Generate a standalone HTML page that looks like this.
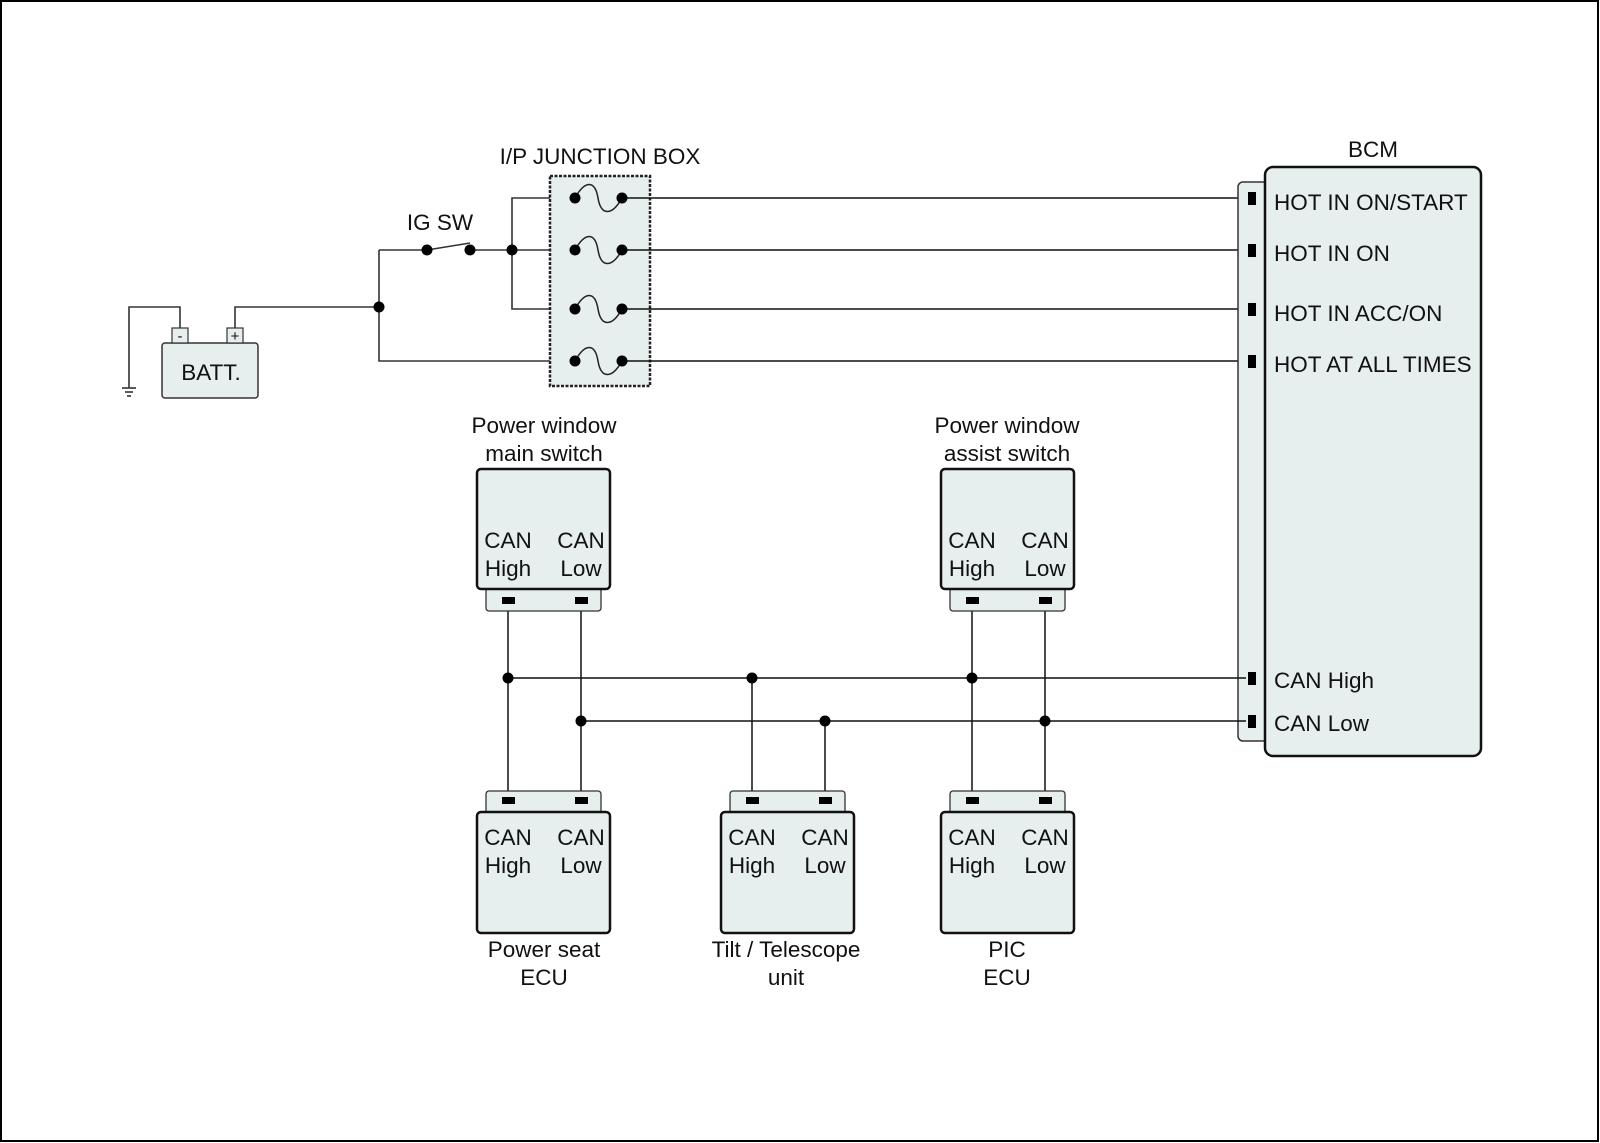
<!DOCTYPE html>
<html><head><meta charset="utf-8"><style>
html,body{margin:0;padding:0;background:#fff}
svg{display:block}
text{font-family:"Liberation Sans",Arial,sans-serif;font-size:22.5px;fill:#111}
</style></head><body>
<svg width="1600" height="1143" viewBox="0 0 1600 1143" xmlns="http://www.w3.org/2000/svg">
<rect x="1" y="1" width="1597" height="1140" fill="#fff" stroke="#000" stroke-width="2"/>
<g fill="none" stroke="#333" stroke-width="1.6">
<polyline points="180,328 180,307 129,307 129,388"/>
<polyline points="235,328 235,307 379,307"/>
<line x1="122" y1="388" x2="136" y2="388"/><line x1="125" y1="392" x2="133" y2="392"/><line x1="127" y1="396" x2="131" y2="396"/>
<polyline points="379,250 379,361 575,361"/>
<polyline points="379,250 427,250"/>
<line x1="427" y1="250" x2="470" y2="243"/>
<line x1="470" y1="250" x2="512" y2="250"/>
<polyline points="575,198 512,198 512,309 575,309"/>
<line x1="512" y1="250" x2="575" y2="250"/>
</g>
<rect x="162" y="343" width="96" height="55" rx="3" fill="#e6eeee" stroke="#333" stroke-width="1.5"/>
<rect x="172" y="328" width="16" height="15" fill="#e6eeee" stroke="#333" stroke-width="1.2"/>
<rect x="227" y="328" width="16" height="15" fill="#e6eeee" stroke="#333" stroke-width="1.2"/>
<text x="180" y="341" text-anchor="middle" style="font-size:15px">-</text>
<text x="235" y="341" text-anchor="middle" style="font-size:15px">+</text>
<text x="211" y="380" text-anchor="middle">BATT.</text>
<text x="440" y="230" text-anchor="middle">IG SW</text>
<rect x="550" y="176" width="100" height="210" fill="#e6eeee" stroke="#222" stroke-width="2.5" stroke-dasharray="3,1.5"/>
<text x="600" y="164" text-anchor="middle">I/P JUNCTION BOX</text>
<g fill="none" stroke="#222" stroke-width="1.5">
<path d="M575,198 C585,180 595,180 598,198 C601,216 612,216 622,198"/>
<path d="M575,250 C585,232 595,232 598,250 C601,268 612,268 622,250"/>
<path d="M575,309 C585,291 595,291 598,309 C601,327 612,327 622,309"/>
<path d="M575,361 C585,343 595,343 598,361 C601,379 612,379 622,361"/>
</g>
<g stroke="#111" stroke-width="1.5">
<line x1="622" y1="198" x2="1246" y2="198"/>
<line x1="622" y1="250" x2="1246" y2="250"/>
<line x1="622" y1="309" x2="1246" y2="309"/>
<line x1="622" y1="361" x2="1246" y2="361"/>
</g>
<g fill="#000">
<circle cx="379" cy="307" r="5.5"/><circle cx="427" cy="250" r="5.5"/><circle cx="470" cy="250" r="5.5"/><circle cx="512" cy="250" r="5.5"/>
<circle cx="575" cy="198" r="5.5"/><circle cx="622" cy="198" r="5.5"/>
<circle cx="575" cy="250" r="5.5"/><circle cx="622" cy="250" r="5.5"/>
<circle cx="575" cy="309" r="5.5"/><circle cx="622" cy="309" r="5.5"/>
<circle cx="575" cy="361" r="5.5"/><circle cx="622" cy="361" r="5.5"/>
</g>
<rect x="1238" y="182" width="40" height="559" rx="5" fill="#e6eeee" stroke="#333" stroke-width="1.5"/>
<rect x="1265" y="167" width="216" height="589" rx="8" fill="#e6eeee" stroke="#111" stroke-width="2.5"/>
<text x="1373" y="157" text-anchor="middle">BCM</text>
<g fill="#000">
<rect x="1248" y="192" width="8" height="13"/><rect x="1248" y="244" width="8" height="13"/><rect x="1248" y="303" width="8" height="13"/><rect x="1248" y="355" width="8" height="13"/>
<rect x="1248" y="672" width="8" height="13"/><rect x="1248" y="715" width="8" height="13"/>
</g>
<text x="1274" y="210">HOT IN ON/START</text>
<text x="1274" y="261">HOT IN ON</text>
<text x="1274" y="321">HOT IN ACC/ON</text>
<text x="1274" y="372">HOT AT ALL TIMES</text>
<text x="1274" y="688">CAN High</text>
<text x="1274" y="731">CAN Low</text>
<g stroke="#111" stroke-width="1.5">
<line x1="508" y1="678" x2="1246" y2="678"/>
<line x1="581" y1="721" x2="1246" y2="721"/>
<line x1="508" y1="603" x2="508" y2="800"/><line x1="581" y1="603" x2="581" y2="800"/>
<line x1="972" y1="603" x2="972" y2="800"/><line x1="1045" y1="603" x2="1045" y2="800"/>
<line x1="752" y1="678" x2="752" y2="800"/><line x1="825" y1="721" x2="825" y2="800"/>
</g>
<g fill="#000">
<circle cx="508" cy="678" r="5.5"/><circle cx="752" cy="678" r="5.5"/><circle cx="972" cy="678" r="5.5"/>
<circle cx="581" cy="721" r="5.5"/><circle cx="825" cy="721" r="5.5"/><circle cx="1045" cy="721" r="5.5"/>
</g>
<g>
<rect x="486" y="585" width="115" height="26" rx="3" fill="#e6eeee" stroke="#333" stroke-width="1.3"/>
<rect x="477" y="469" width="133" height="120" rx="4" fill="#e6eeee" stroke="#111" stroke-width="2.5"/>
<rect x="502" y="597" width="13" height="7" fill="#000"/><rect x="575" y="597" width="13" height="7" fill="#000"/>
<text x="508" y="548" text-anchor="middle">CAN</text><text x="581" y="548" text-anchor="middle">CAN</text>
<text x="508" y="576" text-anchor="middle">High</text><text x="581" y="576" text-anchor="middle">Low</text>
<text x="544" y="433" text-anchor="middle">Power window</text><text x="544" y="461" text-anchor="middle">main switch</text>
</g>
<g>
<rect x="950" y="585" width="115" height="26" rx="3" fill="#e6eeee" stroke="#333" stroke-width="1.3"/>
<rect x="941" y="469" width="133" height="120" rx="4" fill="#e6eeee" stroke="#111" stroke-width="2.5"/>
<rect x="966" y="597" width="13" height="7" fill="#000"/><rect x="1039" y="597" width="13" height="7" fill="#000"/>
<text x="972" y="548" text-anchor="middle">CAN</text><text x="1045" y="548" text-anchor="middle">CAN</text>
<text x="972" y="576" text-anchor="middle">High</text><text x="1045" y="576" text-anchor="middle">Low</text>
<text x="1007" y="433" text-anchor="middle">Power window</text><text x="1007" y="461" text-anchor="middle">assist switch</text>
</g>
<g>
<rect x="486" y="791" width="115" height="26" rx="3" fill="#e6eeee" stroke="#333" stroke-width="1.3"/>
<rect x="477" y="812" width="133" height="121" rx="4" fill="#e6eeee" stroke="#111" stroke-width="2.5"/>
<rect x="502" y="797" width="13" height="7" fill="#000"/><rect x="575" y="797" width="13" height="7" fill="#000"/>
<text x="508" y="845" text-anchor="middle">CAN</text><text x="581" y="845" text-anchor="middle">CAN</text>
<text x="508" y="873" text-anchor="middle">High</text><text x="581" y="873" text-anchor="middle">Low</text>
<text x="544" y="957" text-anchor="middle">Power seat</text><text x="544" y="985" text-anchor="middle">ECU</text>
</g>
<g>
<rect x="730" y="791" width="115" height="26" rx="3" fill="#e6eeee" stroke="#333" stroke-width="1.3"/>
<rect x="721" y="812" width="133" height="121" rx="4" fill="#e6eeee" stroke="#111" stroke-width="2.5"/>
<rect x="746" y="797" width="13" height="7" fill="#000"/><rect x="819" y="797" width="13" height="7" fill="#000"/>
<text x="752" y="845" text-anchor="middle">CAN</text><text x="825" y="845" text-anchor="middle">CAN</text>
<text x="752" y="873" text-anchor="middle">High</text><text x="825" y="873" text-anchor="middle">Low</text>
<text x="786" y="957" text-anchor="middle">Tilt / Telescope</text><text x="786" y="985" text-anchor="middle">unit</text>
</g>
<g>
<rect x="950" y="791" width="115" height="26" rx="3" fill="#e6eeee" stroke="#333" stroke-width="1.3"/>
<rect x="941" y="812" width="133" height="121" rx="4" fill="#e6eeee" stroke="#111" stroke-width="2.5"/>
<rect x="966" y="797" width="13" height="7" fill="#000"/><rect x="1039" y="797" width="13" height="7" fill="#000"/>
<text x="972" y="845" text-anchor="middle">CAN</text><text x="1045" y="845" text-anchor="middle">CAN</text>
<text x="972" y="873" text-anchor="middle">High</text><text x="1045" y="873" text-anchor="middle">Low</text>
<text x="1007" y="957" text-anchor="middle">PIC</text><text x="1007" y="985" text-anchor="middle">ECU</text>
</g>
</svg>
</body></html>
